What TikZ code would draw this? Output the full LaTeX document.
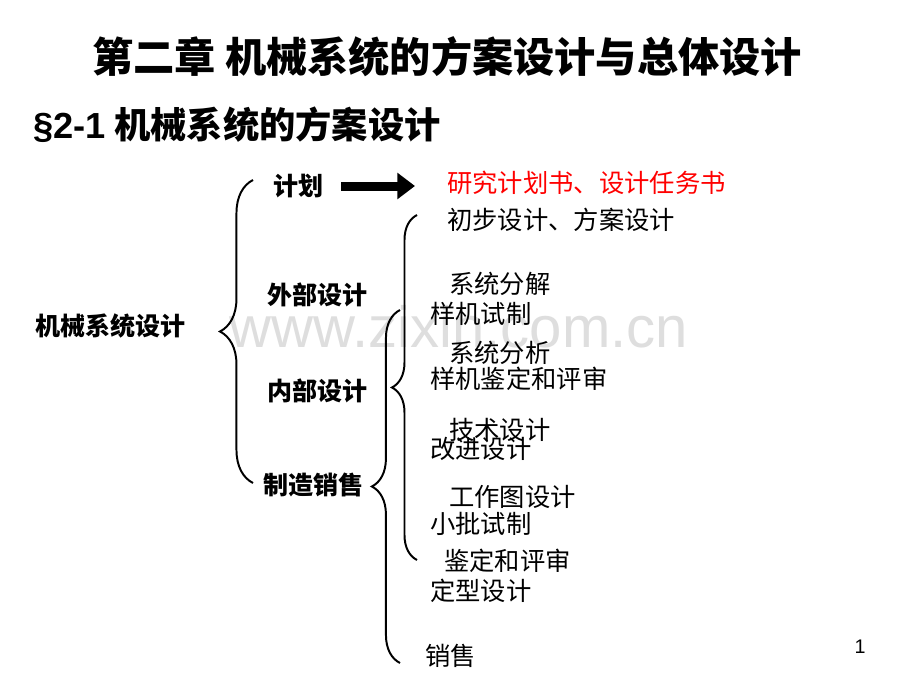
\documentclass[tikz,border=0pt]{standalone}
\usepackage{fontspec}
\usepackage{xcolor}
\usepackage{tikz}
\usetikzlibrary{arrows.meta,decorations.pathreplacing}
\setmainfont{Liberation Sans}
\newfontfamily\cjk{Noto Sans CJK SC}
\definecolor{ink}{HTML}{000000}
\definecolor{plan}{HTML}{FF0000}
\definecolor{wmark}{HTML}{DEDEDE}
\tikzset{
  titlelbl/.style={font=\cjk\bfseries\fontsize{29.3}{31}\selectfont, inner sep=0pt},
  sublbl/.style={font=\cjk\bfseries\fontsize{25.8}{28}\selectfont, inner sep=0pt, anchor=west},
  headlbl/.style={font=\cjk\bfseries\fontsize{17.8}{20}\selectfont, inner sep=0pt, anchor=west},
  itemlbl/.style={font=\cjk\fontsize{18}{20}\selectfont, inner sep=0pt, anchor=west},
  bracel/.style={draw=ink, line width=1.4pt, decorate, decoration={brace, amplitude=#1}},
  bigarrow/.style={draw=ink, line width=6.4pt, -{Triangle[length=12.5pt, width=18pt]}}
}

\begin{document}
\begin{tikzpicture}[x=0.025cm, y=-0.025cm]
  \useasboundingbox[fill=white] (0,0) rectangle (920,690);

  % watermark
  \node[text=wmark, font=\fontsize{41.3}{43}\selectfont, inner sep=0pt] (wm) at (459,327) {www.zixin.com.cn};

  \node[titlelbl] (title) at (447,57) {第二章 机械系统的方案设计与总体设计};
  \node[sublbl] (sub) at (33,125) {{\normalfont\bfseries §2-1} 机械系统的方案设计};

  % left column
  \node[headlbl] (sys) at (35,326) {机械系统设计};
  \node[headlbl] (plan) at (273,186) {计划};
  \node[headlbl] (outer) at (267,295) {外部设计};
  \node[headlbl] (inner) at (267,391) {内部设计};
  \node[headlbl] (make) at (263,485) {制造销售};

  % right column
  \node[itemlbl, text=plan] (plandoc) at (447,183) {研究计划书、设计任务书};
  \node[itemlbl] (prelim) at (447,220) {初步设计、方案设计};
  \node[itemlbl] (decomp) at (449,284) {系统分解};
  \node[itemlbl] (proto) at (430,314) {样机试制};
  \node[itemlbl] (analy) at (449,353) {系统分析};
  \node[itemlbl] (protoeval) at (430,379) {样机鉴定和评审};
  \node[itemlbl] (tech) at (449,430) {技术设计};
  \node[itemlbl] (improve) at (430,449) {改进设计};
  \node[itemlbl] (drawing) at (449,497) {工作图设计};
  \node[itemlbl] (batch) at (430,524) {小批试制};
  \node[itemlbl] (eval) at (444,561) {鉴定和评审};
  \node[itemlbl] (final) at (430,591) {定型设计};
  \node[itemlbl] (sale) at (425,656) {销售};

  \node[inner sep=0pt, font=\fontsize{14}{16}\selectfont] (page) at (860,647) {1};

  % arrow
  \coordinate (arrS) at (341,186);
  \coordinate (arrE) at (415,186);
  \draw[bigarrow] (arrS) -- (arrE);
  % braces
  \coordinate (aTop) at (253,180);
  \coordinate (aBot) at (253,483);
  \coordinate (bTop) at (417,215);
  \coordinate (bBot) at (417,560);
  \coordinate (cTop) at (400,310);
  \coordinate (cBot) at (400,663);
  \draw[bracel=23.5pt] (aBot) -- (aTop);
  \draw[bracel=17.8pt] (bBot) -- (bTop);
  \draw[bracel=20pt] (cBot) -- (cTop);
\end{tikzpicture}
\end{document}
